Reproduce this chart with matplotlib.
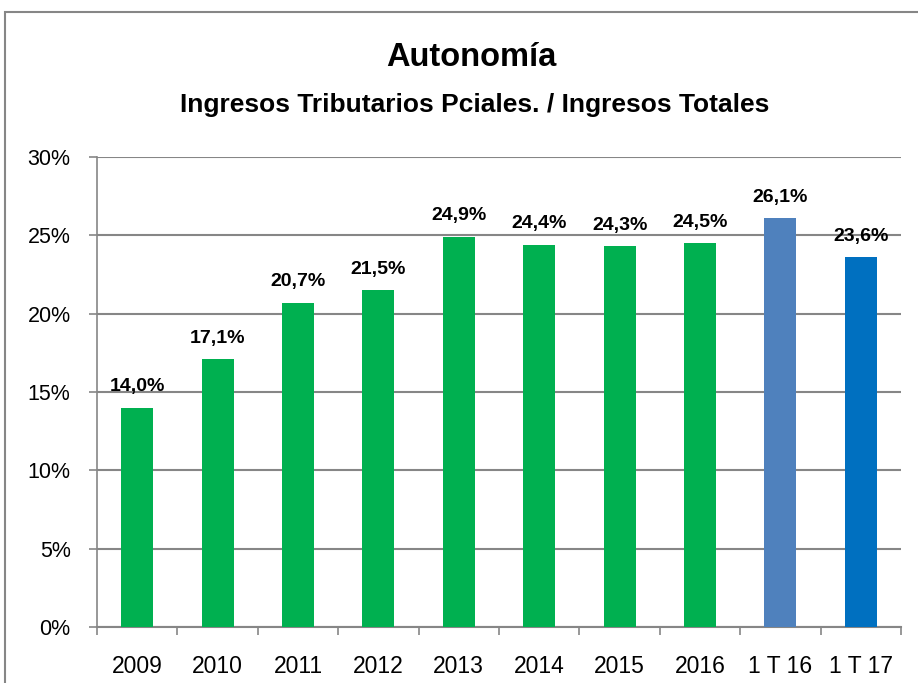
import numpy as np
import matplotlib.pyplot as plt
from matplotlib.patches import Rectangle

## Data ##
categorias = ['2009', '2010', '2011', '2012', '2013', '2014', '2015', '2016', '1 T 16', '1 T 17']
valores = [14.0, 17.1, 20.7, 21.5, 24.9, 24.4, 24.3, 24.5, 26.1, 23.6]
colores = ['#00B050'] * 8 + ['#4F81BD', '#0070C0']

plt.rcParams['font.family'] = ['Liberation Sans', 'DejaVu Sans']

## Set Up Figure ##
fig = plt.figure(figsize=(9.18, 6.83), dpi=100)
ax = fig.add_axes([97 / 918, 1 - 627 / 683, 804 / 918, 470 / 683])

# marco del grafico
fig.patches.append(Rectangle((5 / 918, -0.1), 1.2, 1 - 12 / 683 + 0.1,
                             transform=fig.transFigure, fill=False,
                             edgecolor='#868686', linewidth=1.5))

x = np.arange(len(categorias))
ax.bar(x, valores, width=0.4, color=colores, zorder=3)

for xi, v in zip(x, valores):
    ax.text(xi, v + 0.8, f'{v:.1f}%'.replace('.', ','), ha='center', va='bottom',
            fontsize=14, fontweight='bold', zorder=4)

ax.set_xlim(-0.5, len(categorias) - 0.5)
ax.set_ylim(0, 30)
ax.set_yticks(np.arange(0, 31, 5))
ax.set_yticklabels([f'{t}%' for t in range(0, 31, 5)], fontsize=15.5)
ax.set_xticks(x)
ax.set_xticklabels(categorias, fontsize=16.5)
ax.set_xticks(np.arange(-0.5, len(categorias)), minor=True)
ax.tick_params(axis='x', which='major', length=0, pad=20)
ax.tick_params(axis='x', which='minor', length=6, color='#868686', width=1.2)
ax.tick_params(axis='y', length=6, color='#868686', width=1.2, pad=13)

ax.grid(axis='y', color='#868686', linewidth=1.5, zorder=0)
for s in ['top', 'right']:
    ax.spines[s].set_visible(False)
ax.spines['left'].set_color('#868686')
ax.spines['bottom'].set_color('#868686')
ax.spines['left'].set_linewidth(1.2)
ax.spines['bottom'].set_linewidth(1.5)

fig.text(471 / 918, 1 - 57 / 683, 'Autonomía', ha='center', va='center',
         fontsize=23.5, fontweight='bold')
fig.text(475 / 918, 1 - 105 / 683, 'Ingresos Tributarios Pciales. / Ingresos Totales',
         ha='center', va='center', fontsize=19, fontweight='bold')

plt.savefig('out.png', dpi=100)
